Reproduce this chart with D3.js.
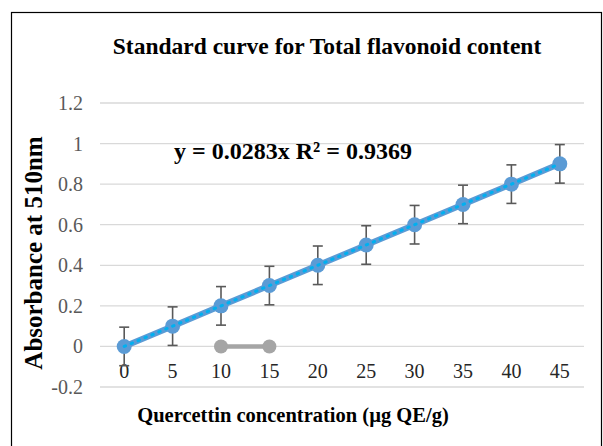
<html>
    <head>
        <title>Standard curve</title>
        <style>
            body { margin: 0; background: #fff; }
            text { font-family: "Liberation Serif", "Times New Roman", serif; }
        </style>
    </head>
    <body>
        <svg id="container" width="603" height="446"></svg>
    </body>
    <script src="https://d3js.org/d3.v7.min.js"></script>
    <script>
        // data
        let concentrations = [0, 5, 10, 15, 20, 25, 30, 35, 40, 45]
        let absorbance = [0, 0.1, 0.2, 0.3, 0.4, 0.5, 0.6, 0.7, 0.8, 0.9]
        let errors = [0.095, 0.095, 0.095, 0.095, 0.095, 0.095, 0.095, 0.095, 0.095, 0.095]
        let blankX = [10, 15]
        let blankY = [0, 0]
        let yTicks = [-0.2, 0, 0.2, 0.4, 0.6, 0.8, 1, 1.2]
        let trendSlope = 0.0283

        let svg = d3.select("#container")
        let plotLeft = 100, plotRight = 584, plotTop = 103, plotBottom = 387

        // outer frame
        svg.append("rect")
           .attr("x", 11.5).attr("y", 12.5)
           .attr("width", 590).attr("height", 460)
           .attr("fill", "none").attr("stroke", "#000").attr("stroke-width", 1.2)

        let x = d3.scalePoint()
                  .domain(concentrations)
                  .range([plotLeft, plotRight])
                  .padding(0.5)
        let y = d3.scaleLinear()
                  .domain([-0.2, 1.2])
                  .range([plotBottom, plotTop])

        // gridlines
        svg.append("g").selectAll("line")
           .data(yTicks)
           .enter().append("line")
           .attr("x1", plotLeft).attr("x2", plotRight)
           .attr("y1", d => y(d)).attr("y2", d => y(d))
           .attr("stroke", "#d9d9d9").attr("stroke-width", 1.3)

        // y tick labels
        svg.append("g").selectAll("text")
           .data(yTicks)
           .enter().append("text")
           .attr("x", 83)
           .attr("y", d => y(d) + 7)
           .attr("text-anchor", "end")
           .attr("fill", "#595959")
           .attr("font-size", 20)
           .text(d => d)

        // x tick labels (below the zero line)
        svg.append("g").selectAll("text")
           .data(concentrations)
           .enter().append("text")
           .attr("x", d => x(d))
           .attr("y", y(0) + 32)
           .attr("text-anchor", "middle")
           .attr("fill", "#262626")
           .attr("font-size", 20)
           .text(d => d)

        let points = concentrations.map((c, i) => ({ c: c, v: absorbance[i], e: errors[i] }))
        let blank = blankX.map((c, i) => ({ c: c, v: blankY[i] }))
        let line = d3.line().x(d => x(d.c)).y(d => y(d.v))

        // grey series
        svg.append("path")
           .datum(blank)
           .attr("d", line)
           .attr("fill", "none").attr("stroke", "#a5a5a5").attr("stroke-width", 4.5)
        svg.append("g").selectAll("circle")
           .data(blank)
           .enter().append("circle")
           .attr("cx", d => x(d.c)).attr("cy", d => y(d.v))
           .attr("r", 7).attr("fill", "#a5a5a5")

        // error bars
        let eb = svg.append("g").attr("stroke", "#595959").attr("stroke-width", 1.6)
        eb.selectAll(".stem")
          .data(points)
          .enter().append("line")
          .attr("x1", d => x(d.c)).attr("x2", d => x(d.c))
          .attr("y1", d => y(d.v + d.e)).attr("y2", d => y(d.v - d.e))
        eb.selectAll(".cap")
          .data(points.flatMap(d => [d.v + d.e, d.v - d.e].map(v => ({ c: d.c, v: v }))))
          .enter().append("line")
          .attr("x1", d => x(d.c) - 5).attr("x2", d => x(d.c) + 5)
          .attr("y1", d => y(d.v)).attr("y2", d => y(d.v))

        // main series
        svg.append("path")
           .datum(points)
           .attr("d", line)
           .attr("fill", "none").attr("stroke", "#5b9bd5").attr("stroke-width", 6)
        svg.append("g").selectAll("circle")
           .data(points)
           .enter().append("circle")
           .attr("cx", d => x(d.c)).attr("cy", d => y(d.v))
           .attr("r", 7.5).attr("fill", "#5b9bd5")

        // dotted trendline over the series
        svg.append("path")
           .datum(points)
           .attr("d", line)
           .attr("fill", "none").attr("stroke", "#00b0f0").attr("stroke-width", 3)
           .attr("stroke-dasharray", "1.5,6").attr("stroke-linecap", "round")

        // texts
        svg.append("text")
           .attr("x", 327).attr("y", 54)
           .attr("text-anchor", "middle")
           .attr("font-size", 23.5).attr("font-weight", "bold")
           .text("Standard curve for Total flavonoid content")

        svg.append("text")
           .attr("x", 174).attr("y", 159)
           .attr("font-size", 24).attr("font-weight", "bold")
           .text("y = " + trendSlope + "x R² = 0.9369")

        svg.append("text")
           .attr("transform", "translate(42,253) rotate(-90)")
           .attr("text-anchor", "middle")
           .attr("font-size", 25).attr("font-weight", "bold")
           .text("Absorbance at 510nm")

        svg.append("text")
           .attr("x", 293).attr("y", 422)
           .attr("text-anchor", "middle")
           .attr("font-size", 20.5).attr("font-weight", "bold")
           .text("Quercettin concentration (µg QE/g)")
    </script>
</html>
